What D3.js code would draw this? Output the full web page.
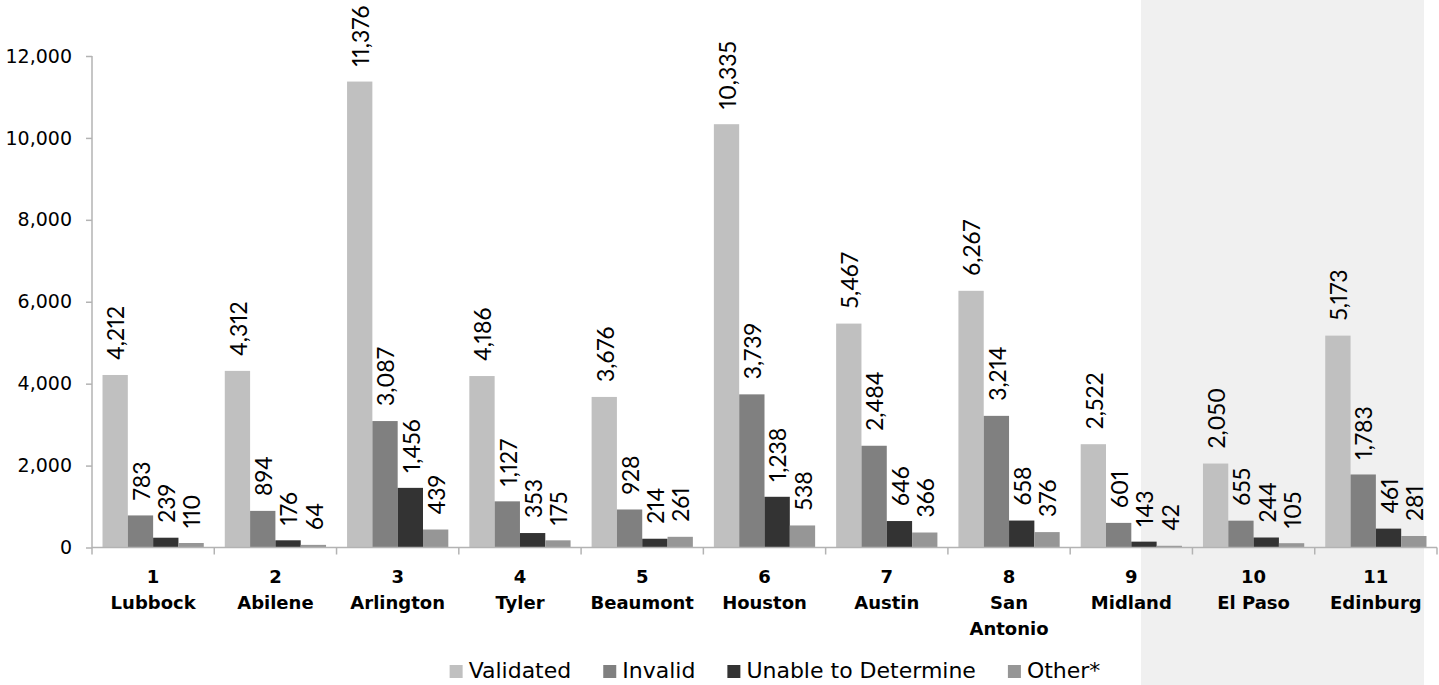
<!DOCTYPE html>
<html>
<head>
<meta charset="utf-8">
<script src="https://cdn.jsdelivr.net/npm/d3@7"></script>
<style>
	body { margin: 0; background: #fff; }
	svg { display: block; font-family: 'DejaVu Sans', sans-serif; }
	.axis path, .axis line { stroke: #b3b3b3; stroke-width: 1.5; }
	text.val { font-family: Lato, sans-serif; font-feature-settings: "pnum" 1; font-variant-numeric: proportional-nums; }
</style>
</head>
<body>
<script>
	// district data
	var districtNums = ['1', '2', '3', '4', '5', '6', '7', '8', '9', '10', '11'],
		districtNames = ['Lubbock', 'Abilene', 'Arlington', 'Tyler', 'Beaumont', 'Houston',
			'Austin', 'San Antonio', 'Midland', 'El Paso', 'Edinburg'],
		seriesNames = ['Validated', 'Invalid', 'Unable to Determine', 'Other*'],
		seriesColors = ['#c0c0c0', '#808080', '#333333', '#969696'],
		validated = [4212, 4312, 11376, 4186, 3676, 10335, 5467, 6267, 2522, 2050, 5173],
		invalid = [783, 894, 3087, 1127, 928, 3739, 2484, 3214, 601, 655, 1783],
		unable = [239, 176, 1456, 353, 214, 1238, 646, 658, 143, 244, 461],
		other = [110, 64, 439, 175, 261, 538, 366, 376, 42, 105, 281],
		yTicks = [0, 2000, 4000, 6000, 8000, 10000, 12000];

	var chartWidth = 1439,
		chartHeight = 685,
		plotLeft = 92,
		plotRight = 1437,
		plotTop = 56,
		plotBottom = 547.5,
		fmt = d3.format(',');

	var rows = districtNums.map(function(n, i) {
		return {num: n, name: districtNames[i],
			values: [validated[i], invalid[i], unable[i], other[i]]};
	});

	var svg = d3.select('body').append('svg')
		.attr('width', chartWidth)
		.attr('height', chartHeight);

	// shaded panel behind the last districts
	svg.append('rect')
		.attr('x', 1141)
		.attr('y', 0)
		.attr('width', 283)
		.attr('height', chartHeight)
		.attr('fill', '#f0f0f0');

	var x0 = d3.scaleBand().domain(districtNums).range([plotLeft, plotRight]);
	var x1 = d3.scaleBand().domain(seriesNames)
		.range([0, x0.bandwidth()]).paddingOuter(0.415);
	var y = d3.scaleLinear().domain([0, 12000]).range([plotBottom, plotTop]);
	var color = d3.scaleOrdinal().domain(seriesNames).range(seriesColors);

	var groups = svg.selectAll('g.district')
		.data(rows)
		.enter().append('g')
		.attr('class', 'district')
		.attr('transform', function(d) { return 'translate(' + x0(d.num) + ',0)'; });

	var cells = groups.selectAll('g.cell')
		.data(function(d) {
			return d.values.map(function(v, j) { return {series: seriesNames[j], value: v}; });
		})
		.enter().append('g')
		.attr('class', 'cell');

	cells.append('rect')
		.attr('x', function(d) { return x1(d.series); })
		.attr('y', function(d) { return y(d.value); })
		.attr('width', x1.bandwidth())
		.attr('height', function(d) { return plotBottom - y(d.value); })
		.attr('fill', function(d) { return color(d.series); });

	cells.append('text')
		.attr('class', 'val')
		.attr('transform', function(d) {
			return 'translate(' + (x1(d.series) + x1.bandwidth() / 2 + 1) + ',' +
				(y(d.value) - 15) + ') rotate(-90)';
		})
		.attr('dy', '0.36em')
		.attr('font-size', 23)
		.attr('fill', '#000')
		.text(function(d) { return fmt(d.value); });

	// y axis
	var yAxis = svg.append('g')
		.attr('class', 'axis')
		.attr('transform', 'translate(' + plotLeft + ',0)')
		.call(d3.axisLeft(y).tickValues(yTicks).tickFormat(fmt).tickSize(6).tickPadding(14));
	yAxis.select('.domain').attr('d', 'M0,' + plotTop + 'V' + (plotBottom + 7));
	yAxis.attr('font-family', null).attr('font-size', null);
	yAxis.selectAll('.tick text').attr('font-size', 19).attr('fill', '#000');

	// x axis line with ticks between districts
	var xAxis = svg.append('g').attr('class', 'axis');
	xAxis.append('line')
		.attr('x1', plotLeft).attr('x2', plotRight)
		.attr('y1', plotBottom).attr('y2', plotBottom);
	xAxis.selectAll('line.sep')
		.data(districtNums)
		.enter().append('line')
		.attr('class', 'sep')
		.attr('x1', function(d) { return x0(d) + x0.bandwidth(); })
		.attr('x2', function(d) { return x0(d) + x0.bandwidth(); })
		.attr('y1', plotBottom).attr('y2', plotBottom + 7);

	var labels = svg.selectAll('text.cat')
		.data(rows)
		.enter().append('text')
		.attr('class', 'cat')
		.attr('text-anchor', 'middle')
		.attr('font-size', 18)
		.attr('font-weight', 'bold')
		.attr('fill', '#000');
	labels.each(function(d) {
		var t = d3.select(this),
			cx = x0(d.num) + x0.bandwidth() / 2,
			lines = [d.num].concat(d.name === 'San Antonio' ? ['San', 'Antonio'] : [d.name]);
		lines.forEach(function(line, k) {
			t.append('tspan').attr('x', cx).attr('y', 583 + k * 26).text(line);
		});
	});

	// legend
	var legend = svg.append('g');
	var items = legend.selectAll('g')
		.data(seriesNames)
		.enter().append('g');
	items.append('rect')
		.attr('y', 665)
		.attr('width', 13)
		.attr('height', 13)
		.attr('fill', function(d) { return color(d); });
	items.append('text')
		.attr('x', 19)
		.attr('y', 678)
		.attr('font-size', 22)
		.attr('fill', '#000')
		.text(function(d) { return d; });

	var pos = 0, offsets = [];
	items.each(function() {
		offsets.push(pos);
		pos += 19 + d3.select(this).select('text').node().getComputedTextLength() + 32;
	});
	var total = pos - 32,
		startX = 775 - total / 2;
	items.attr('transform', function(d, i) { return 'translate(' + (startX + offsets[i]) + ',0)'; });
</script>
</body>
</html>
